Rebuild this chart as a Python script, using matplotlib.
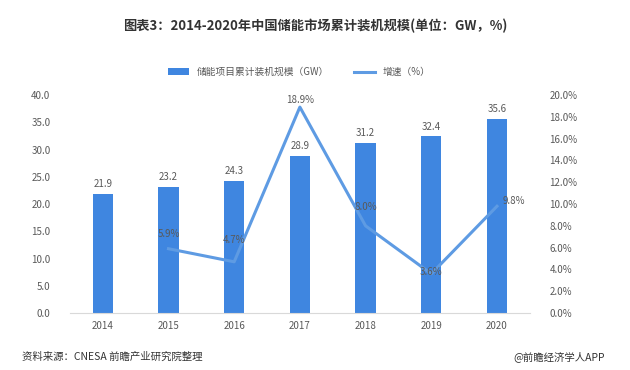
import matplotlib.pyplot as plt
import numpy as np

plt.rcParams['font.family'] = ['Noto Sans CJK SC', 'DejaVu Sans']

years = ["2014", "2015", "2016", "2017", "2018", "2019", "2020"]
capacity = [21.9, 23.2, 24.3, 28.9, 31.2, 32.4, 35.6]
growth_years = ["2015", "2016", "2017", "2018", "2019", "2020"]
growth = [5.9, 4.7, 18.9, 8.0, 3.6, 9.8]

bar_color = "#3F86E0"
line_color = "#5E9BE3"
text_color = "#595959"

fig = plt.figure(figsize=(6.3, 3.7), dpi=100)
ax = fig.add_axes([0.111, 0.154, 0.73, 0.589])
ax2 = ax.twinx()

x = np.arange(len(years))
bars = ax.bar(x, capacity, width=0.31, color=bar_color, label="储能项目累计装机规模（GW）", zorder=2)
gx = [years.index(y) for y in growth_years]
line, = ax2.plot(gx, growth, color=line_color, lw=2.2, label="增速（%）", zorder=3)

for xi, v in zip(x, capacity):
    ax.text(xi, v + 0.9, f"{v:.1f}", ha="center", va="bottom", fontsize=7, color=text_color)

# label offsets in points
offsets = [(0, 7), (0, 12), (0, 1.5), (0, 10), (0, -2), (12, 0)]
for xi, v, (dx, dy) in zip(gx, growth, offsets):
    ax2.annotate(f"{v:.1f}%", (xi, v), xytext=(dx, dy), textcoords="offset points",
                 ha="center", va="bottom", fontsize=7, color=text_color, zorder=6)

ax.set_ylim(0, 40)
ax.set_yticks(np.arange(0, 41, 5))
ax.set_yticklabels([f"{v:.1f}" for v in np.arange(0, 41, 5)])
ax2.set_ylim(0, 20)
ax2.set_yticks(np.arange(0, 21, 2))
ax2.set_yticklabels([f"{v:.1f}%" for v in np.arange(0, 21, 2)])
ax.set_xlim(-0.5, len(years) - 0.5)
ax.set_xticks(x)
ax.set_xticklabels(years)

for a in (ax, ax2):
    for s in a.spines.values():
        s.set_visible(False)
    a.tick_params(length=0, labelsize=7, colors=text_color)
ax.spines["bottom"].set_visible(True)
ax.spines["bottom"].set_color("#D9D9D9")
ax.tick_params(axis="y", pad=14)
ax2.tick_params(axis="y", pad=14)
ax.tick_params(axis="x", pad=6)

fig.text(0.5, 0.93, "图表3：2014-2020年中国储能市场累计装机规模(单位：GW，%)",
         ha="center", va="center", fontsize=9.5, fontweight="bold", color="#333333")
fig.legend(handles=[bars, line], loc="center", bbox_to_anchor=(0.475, 0.805), ncol=2,
           frameon=False, fontsize=7, handlelength=2.2, columnspacing=2.5,
           labelcolor=text_color)
fig.text(0.035, 0.035, "资料来源：CNESA 前瞻产业研究院整理", fontsize=7.5, color="#333333", va="center")
fig.text(0.96, 0.035, "@前瞻经济学人APP", fontsize=7.5, color="#333333", va="center", ha="right")

fig.savefig("out.png", dpi=100)
